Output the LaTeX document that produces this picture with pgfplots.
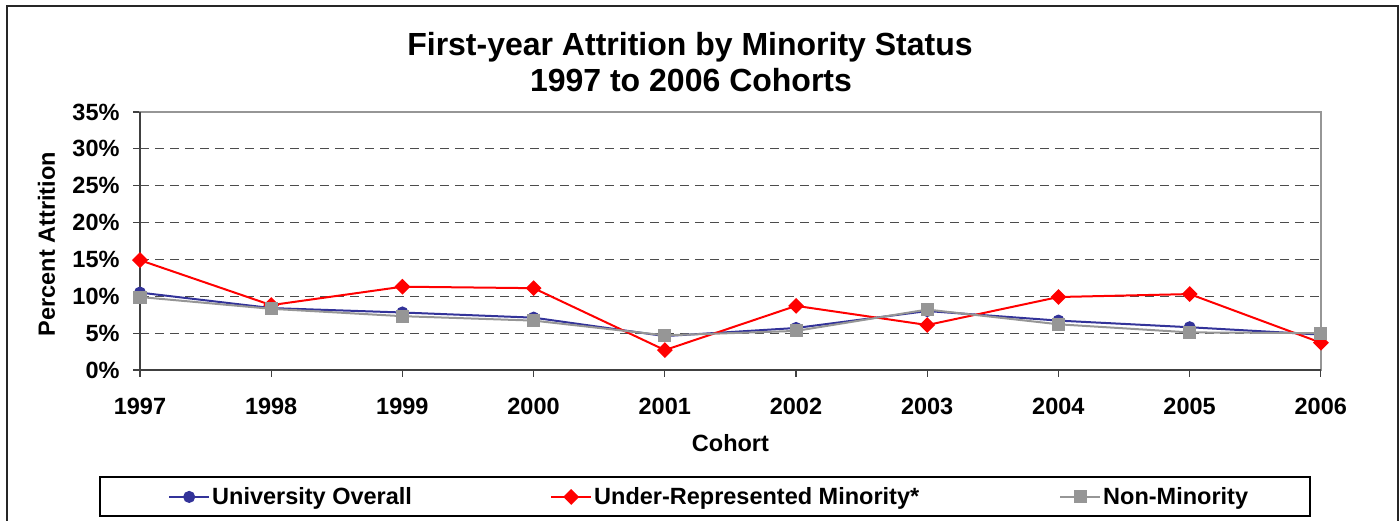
\documentclass[border=0pt]{standalone}
\usepackage{pgfplots}
\pgfplotsset{compat=1.18}
\usepackage{fontspec}
\setmainfont{Liberation Sans}
\definecolor{uniblue}{HTML}{333399}
\definecolor{nmgray}{HTML}{969696}
\definecolor{axdark}{HTML}{404040}
\begin{document}
\begin{tikzpicture}
\path[use as bounding box] (0pt,0pt) rectangle (1400pt,521pt);
% outer frame
\draw[line width=2pt,black!85] (7pt,-10pt) -- (7pt,515pt) -- (1398pt,515pt) -- (1398pt,-10pt);
% title
\node[anchor=base,font=\fontsize{32}{36}\selectfont\bfseries] at (690pt,465pt) {First-year Attrition by Minority Status};
\node[anchor=base,font=\fontsize{32}{36}\selectfont\bfseries] at (691pt,429pt) {1997 to 2006 Cohorts};
% legend frame
\draw[line width=1.2pt,black] (100pt,5pt) rectangle (1310pt,44pt);
\begin{axis}[
  at={(140pt,151pt)}, anchor=south west,
  scale only axis, width=1181pt, height=258pt,
  xmin=1997, xmax=2006, ymin=0, ymax=35,
  xtick={1997,...,2006}, ytick={0,5,...,35},
  xticklabel style={/pgf/number format/1000 sep={}, yshift=-18pt},
  yticklabel style={xshift=-10pt},
  yticklabel={\pgfmathprintnumber{\tick}\%},
  /pgf/number format/assume math mode=true,
  tick label style={font=\fontsize{23.5}{27}\selectfont\bfseries},
  label style={font=\fontsize{23.5}{27}\selectfont\bfseries},
  tick align=outside, major tick length=7pt,
  tick style={line width=1.2pt,axdark},
  xtick pos=bottom, ytick pos=left,
  ymajorgrids, grid style={dashed,line width=1pt,black!70,dash pattern=on 9pt off 6pt},
  axis line style={line width=2pt,nmgray},
  xlabel={Cohort}, ylabel={Percent Attrition},
  xlabel style={at={(axis description cs:0.5,-0.314)},anchor=base},
  ylabel style={at={(axis description cs:-0.072,0.488)},anchor=base},
  legend columns=3,
  legend style={draw=none,fill=none,at={(axis description cs:0.0237,-0.492)},anchor=west,
    font=\fontsize{23.5}{27}\selectfont\bfseries, inner sep=0pt, column sep=0pt,
    nodes={inner sep=2pt}},
  legend image code/.code={\draw[mark repeat=2,mark phase=2] plot coordinates {(0pt,0pt) (20pt,0pt) (40pt,0pt)};},
  every axis plot/.append style={line width=2pt},
  clip=false,
]
\addplot[color=uniblue, mark=*, mark size=5pt, mark options={solid,fill=uniblue,draw=uniblue}]
  coordinates {(1997,10.5) (1998,8.4) (1999,7.8) (2000,7.1) (2001,4.6) (2002,5.7) (2003,8.0) (2004,6.7) (2005,5.8) (2006,4.8)};
\addlegendentry{\makebox[336pt][l]{University Overall}}
\addplot[color=red, mark=square*, mark size=4.6pt, mark options={solid,fill=red,draw=red,rotate=45}]
  coordinates {(1997,14.9) (1998,8.8) (1999,11.3) (2000,11.1) (2001,2.7) (2002,8.7) (2003,6.1) (2004,9.9) (2005,10.3) (2006,3.7)};
\addlegendentry{\makebox[463pt][l]{Under-Represented Minority*}}
\addplot[color=nmgray, mark=square*, mark size=5.5pt, mark options={solid,fill=nmgray,draw=nmgray}]
  coordinates {(1997,9.9) (1998,8.3) (1999,7.3) (2000,6.7) (2001,4.7) (2002,5.3) (2003,8.2) (2004,6.2) (2005,5.1) (2006,5.0)};
\addlegendentry{Non-Minority}
\draw[line width=2pt,axdark] (rel axis cs:0,1) -- (rel axis cs:0,0) -- (rel axis cs:1,0);
\end{axis}
\end{tikzpicture}
\end{document}
